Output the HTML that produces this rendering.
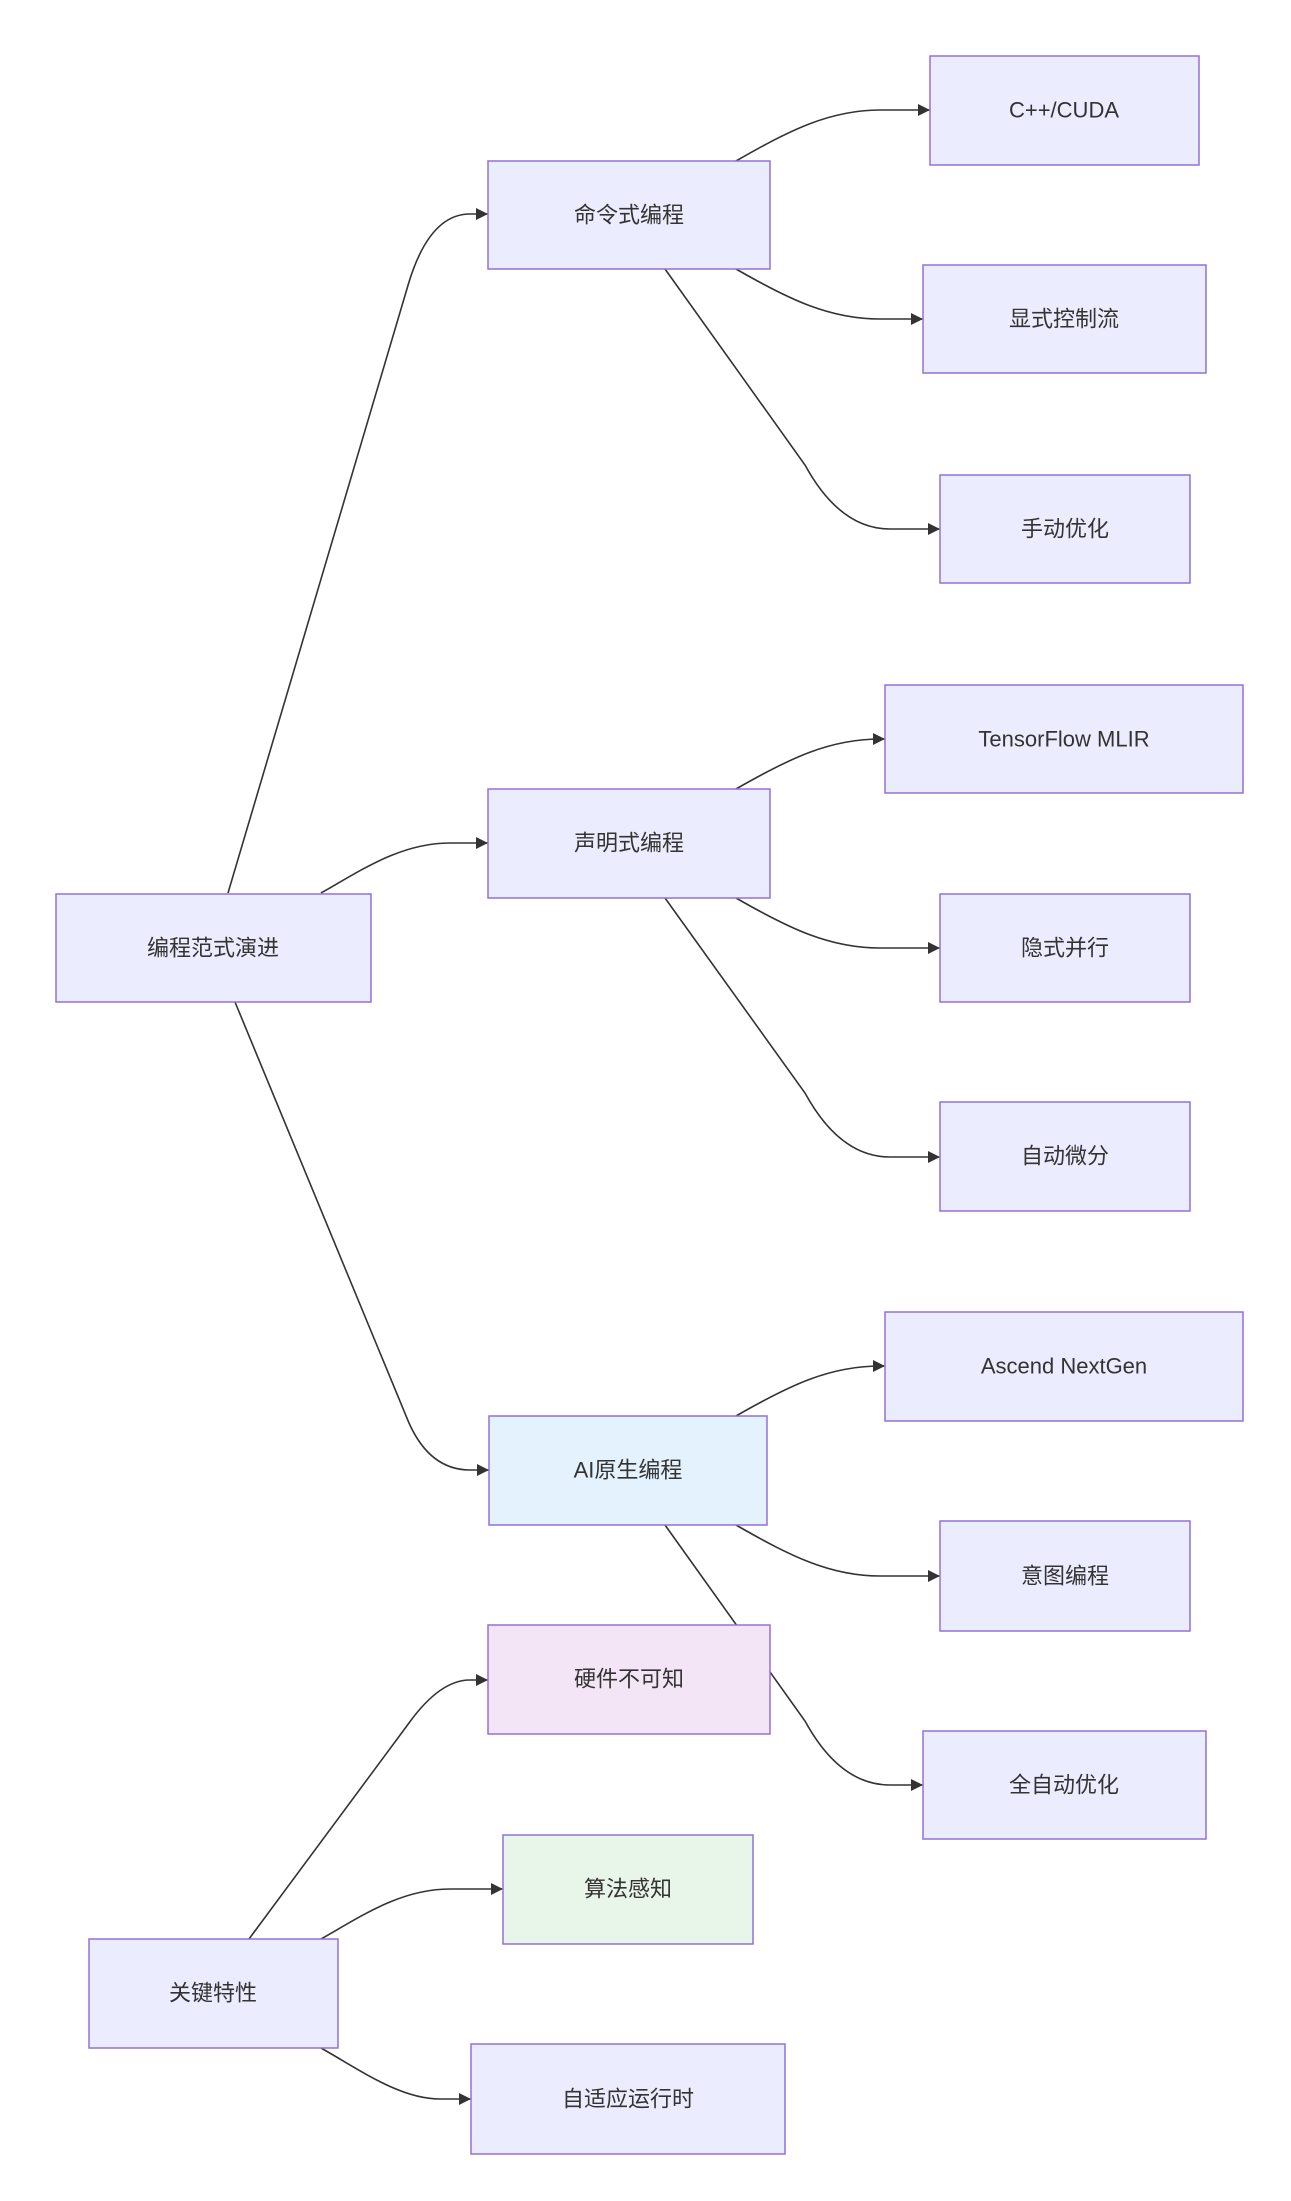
<!DOCTYPE html>
<html><head><meta charset="utf-8"><style>
html,body{margin:0;padding:0;background:#fff;}
svg text{font-family:"Liberation Sans","Noto Sans CJK SC",sans-serif;font-size:22px;fill:#333;}
</style></head><body>
<svg width="1291" height="2196" viewBox="0 0 1291 2196" xmlns="http://www.w3.org/2000/svg">
<defs><marker id="a" viewBox="0 0 10 10" refX="10" refY="5" markerWidth="12" markerHeight="12" markerUnits="userSpaceOnUse" orient="auto"><path d="M0,0L10,5L0,10z" fill="#333"/></marker></defs>
<g fill="none" stroke="#333" stroke-width="1.6" marker-end="url(#a)">
<path d="M228,893 L409,282 Q430,214 470,214 L488,214"/>
<path d="M321,893 C360,871 400,843 450,843 L488,843"/>
<path d="M235,1002 L409,1423 Q430,1470 470,1470 L489,1470"/>
<path d="M736,161 C790,130 830,110 880,110 L930,110"/>
<path d="M736,269 C790,300 830,319 880,319 L923,319"/>
<path d="M665,269 L805,465 Q840,529 890,529 L940,529"/>
<path d="M736,789 C790,758 830,739 880,739 L885,739"/>
<path d="M736,898 C790,929 830,948 880,948 L940,948"/>
<path d="M665,898 L805,1093 Q840,1157 890,1157 L940,1157"/>
<path d="M736,1416 C790,1385 830,1366 880,1366 L885,1366"/>
<path d="M736,1525 C790,1556 830,1576 880,1576 L940,1576"/>
<path d="M665,1525 L805,1721 Q840,1785 890,1785 L923,1785"/>
<path d="M249,1939 L409,1723 Q440,1680 470,1680 L488,1680"/>
<path d="M321,1939 C360,1917 400,1889 450,1889 L503,1889"/>
<path d="M321,2048 C360,2070 400,2099 440,2099 L471,2099"/>
</g>
<g stroke="#9370DB" stroke-width="1.5">
<rect x="488" y="161" width="282" height="108" fill="#ECECFF"/>
<rect x="930" y="56" width="269" height="109" fill="#ECECFF"/>
<rect x="923" y="265" width="283" height="108" fill="#ECECFF"/>
<rect x="940" y="475" width="250" height="108" fill="#ECECFF"/>
<rect x="885" y="685" width="358" height="108" fill="#ECECFF"/>
<rect x="488" y="789" width="282" height="109" fill="#ECECFF"/>
<rect x="940" y="894" width="250" height="108" fill="#ECECFF"/>
<rect x="940" y="1102" width="250" height="109" fill="#ECECFF"/>
<rect x="56" y="894" width="315" height="108" fill="#ECECFF"/>
<rect x="885" y="1312" width="358" height="109" fill="#ECECFF"/>
<rect x="489" y="1416" width="278" height="109" fill="#E3F2FD"/>
<rect x="940" y="1521" width="250" height="110" fill="#ECECFF"/>
<rect x="488" y="1625" width="282" height="109" fill="#F3E5F5"/>
<rect x="923" y="1731" width="283" height="108" fill="#ECECFF"/>
<rect x="503" y="1835" width="250" height="109" fill="#E8F5E9"/>
<rect x="89" y="1939" width="249" height="109" fill="#ECECFF"/>
<rect x="471" y="2044" width="314" height="110" fill="#ECECFF"/>
</g>
<g text-anchor="middle" dominant-baseline="central">
<text x="629" y="215">命令式编程</text>
<text x="1064" y="110">C++/CUDA</text>
<text x="1064" y="319">显式控制流</text>
<text x="1065" y="529">手动优化</text>
<text x="1064" y="739">TensorFlow MLIR</text>
<text x="629" y="843">声明式编程</text>
<text x="1065" y="948">隐式并行</text>
<text x="1065" y="1156">自动微分</text>
<text x="213" y="948">编程范式演进</text>
<text x="1064" y="1366">Ascend NextGen</text>
<text x="628" y="1470">AI原生编程</text>
<text x="1065" y="1576">意图编程</text>
<text x="629" y="1679">硬件不可知</text>
<text x="1064" y="1785">全自动优化</text>
<text x="628" y="1889">算法感知</text>
<text x="213" y="1993">关键特性</text>
<text x="628" y="2099">自适应运行时</text>
</g>
</svg>
</body></html>
